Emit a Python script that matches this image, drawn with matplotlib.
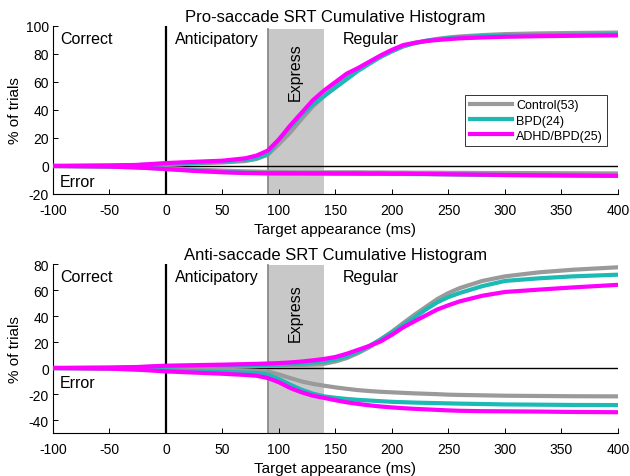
import numpy as np
import matplotlib
matplotlib.use("Agg")
import matplotlib.pyplot as plt

plt.rcParams['font.family'] = ['Liberation Sans', 'DejaVu Sans']
plt.rcParams['axes.unicode_minus'] = False

# time after target appearance (ms)
t = [-100, -50, -25, 0, 25, 50, 70, 80, 90, 100, 110, 120, 130, 140, 150, 160, 170,
     180, 190, 200, 210, 220, 230, 240, 250, 260, 280, 300, 330, 360, 400]

# pro-saccade, correct (%)
pro_ctrl = [0, 0.2, 0.5, 1, 1.7, 2.5, 3.5, 5, 8, 15.7, 24, 33.6, 42.6, 50, 57, 64, 69,
            74, 78, 82, 85.5, 87.8, 89.5, 90.8, 91.8, 92.5, 93.5, 94.2, 94.7, 95, 95.3]
pro_bpd = [0, 0.3, 0.7, 1.5, 2.3, 3.2, 4.5, 5.5, 8.5, 19, 28, 36.7, 44, 50, 56, 62, 68,
           73, 78, 82, 85.5, 87.8, 89.3, 90.5, 91.3, 92, 92.8, 93.2, 93.5, 93.7, 94]
pro_adhd = [0, 0.3, 0.8, 2.1, 3, 3.8, 5.5, 7.4, 11, 19, 29, 38, 47, 54, 60, 66, 70,
            74.5, 79, 83, 86.4, 88, 89.2, 90, 90.6, 91.2, 91.8, 92.3, 92.7, 93, 93.3]
# pro-saccade, error (%)
pro_ctrl_err = [0, -0.3, -0.8, -1.5, -2.5, -3.3, -3.8, -4, -4.2, -4.3, -4.4, -4.5, -4.5, -4.5, -4.5, -4.5, -4.5,
                -4.6, -4.6, -4.7, -4.7, -4.8, -4.8, -4.8, -4.9, -4.9, -5, -5, -5.1, -5.2, -5.3]
pro_bpd_err = [0, -0.4, -1, -2, -3.2, -4.2, -4.8, -5, -5.2, -5.3, -5.4, -5.4, -5.5, -5.5, -5.5, -5.5, -5.6,
               -5.6, -5.6, -5.7, -5.7, -5.8, -5.8, -5.9, -6, -6.1, -6.3, -6.5, -6.7, -6.8, -7]
pro_adhd_err = [0, -0.4, -1.1, -2.2, -3.5, -4.5, -5, -5.1, -5.2, -5.2, -5.2, -5.2, -5.2, -5.2, -5.3, -5.3, -5.3,
                -5.4, -5.4, -5.5, -5.5, -5.6, -5.7, -5.8, -5.9, -6, -6.2, -6.4, -6.6, -6.8, -7]

# anti-saccade, correct (%)
anti_ctrl = [0, 0.1, 0.4, 0.8, 1, 1.2, 1.4, 1.5, 1.6, 1.8, 2, 2.3, 2.7, 3.3, 5, 7.7, 11.5,
             16, 22, 28, 34.6, 41, 47, 53, 57.7, 61.5, 67, 70.5, 73.6, 75.6, 77.5]
anti_bpd = [0, 0.2, 0.6, 1.3, 1.7, 2, 2.2, 2.4, 2.5, 2.6, 3, 3.5, 4.2, 5, 6.5, 9, 12.5,
            17, 22, 27.4, 33, 39, 45, 50.5, 54.6, 57.7, 63, 67, 69, 70.5, 71.8]
anti_adhd = [0, 0.3, 0.8, 1.8, 2.2, 2.6, 3, 3.2, 3.5, 3.8, 4.3, 5, 5.9, 7, 8.5, 11, 14,
             17, 20.5, 25.6, 31.3, 36, 40.5, 45, 48.3, 51.3, 55.6, 58.5, 60.3, 62, 64]
# anti-saccade, error (%)
anti_ctrl_err = [0, -0.2, -0.5, -0.8, -1, -1.3, -1.8, -2.2, -2.6, -5, -7.7, -10.3, -12.2, -13.6, -14.9, -16, -17,
                 -17.7, -18.3, -18.7, -19.1, -19.5, -19.8, -20.1, -20.5, -20.7, -21, -21.3, -21.5, -21.7, -21.8]
anti_bpd_err = [0, -0.4, -1, -1.8, -2.4, -3, -3.5, -3.8, -5, -8.5, -12.8, -16.7, -19.7, -21.8, -22.9, -23.8, -24.5,
                -25, -25.5, -26, -26.3, -26.6, -26.8, -27, -27.2, -27.4, -27.7, -28, -28.2, -28.4, -28.5]
anti_adhd_err = [0, -0.5, -1.3, -2.6, -3.5, -4.4, -5.3, -5.9, -7.7, -11, -15.4, -18.7, -21.3, -23, -24.8, -26.4, -27.6,
                 -28.7, -29.6, -30.3, -30.9, -31.4, -31.8, -32.2, -32.6, -32.9, -33.2, -33.3, -33.5, -33.8, -34]

groups = ['Control(53)', 'BPD(24)', 'ADHD/BPD(25)']
colors = ['#9a9a9a', '#1bbab5', '#ff00ff']

fig = plt.figure(figsize=(6.3, 4.77), dpi=100)
ax1 = fig.add_axes([0.0841, 0.5912, 0.8968, 0.3522])
ax2 = fig.add_axes([0.0841, 0.0901, 0.8968, 0.3543])

panels = [
    (ax1, 'Pro-saccade SRT Cumulative Histogram', (-20, 100), np.arange(-20, 101, 20), 97.5, 68,
     [pro_ctrl, pro_bpd, pro_adhd], [pro_ctrl_err, pro_bpd_err, pro_adhd_err]),
    (ax2, 'Anti-saccade SRT Cumulative Histogram', (-50, 80), np.arange(-40, 81, 20), 79, 43,
     [anti_ctrl, anti_bpd, anti_adhd], [anti_ctrl_err, anti_bpd_err, anti_adhd_err]),
]

for ax, title, ylim, yticks, band_top, expr_y, correct, error in panels:
    ax.fill_between([90, 140], ylim[0], band_top, color='#c8c8c8', lw=0, zorder=0)
    ax.plot([90, 90], [ylim[0], band_top], color='#8a8a8a', lw=1.3, zorder=1)
    ax.axvline(0, color='black', lw=1.6, zorder=1)
    ax.axhline(0, color='black', lw=1, zorder=1)
    for i in range(3):
        ax.plot(t, correct[i], color=colors[i], lw=3, label=groups[i], zorder=3,
                solid_joinstyle='round')
        ax.plot(t, error[i], color=colors[i], lw=3, zorder=3, solid_joinstyle='round')
    ax.set_xlim(-100, 400)
    ax.set_ylim(*ylim)
    ax.set_yticks(yticks)
    ax.set_xticks(np.arange(-100, 401, 50))
    ax.tick_params(direction='in', labelsize=10, length=3.5, width=0.7)
    ax.tick_params(axis='x', pad=6.5)
    ax.tick_params(axis='y', pad=3)
    ax.spines['top'].set_visible(False)
    ax.spines['right'].set_visible(False)
    ax.set_title(title, fontsize=12, pad=3.5)
    ax.set_xlabel('Target appearance (ms)', fontsize=11, labelpad=3.5)
    ax.set_ylabel('% of trials', fontsize=11)
    ax.yaxis.set_label_coords(-0.055, 0.5)
    yr = ylim[1] - ylim[0]
    top_y = ylim[1] - 0.075 * yr
    ax.text(-94, top_y, 'Correct', fontsize=11.5, va='center')
    ax.text(-94, -11, 'Error', fontsize=11.5, va='center')
    ax.text(8, top_y, 'Anticipatory', fontsize=11.5, va='center')
    ax.text(156, top_y, 'Regular', fontsize=11.5, va='center')
    ax.text(114, expr_y, 'Express', fontsize=11.5, rotation=90,
            ha='center', va='center')

leg = ax1.legend(loc='upper right', bbox_to_anchor=(0.981, 0.589), fontsize=9,
                 handlelength=3.4, frameon=True, fancybox=False, borderpad=0.35,
                 labelspacing=0.25, handletextpad=0.3, borderaxespad=0)
leg.get_frame().set_edgecolor('black')
leg.get_frame().set_linewidth(0.7)

fig.savefig('out.png', dpi=100)
